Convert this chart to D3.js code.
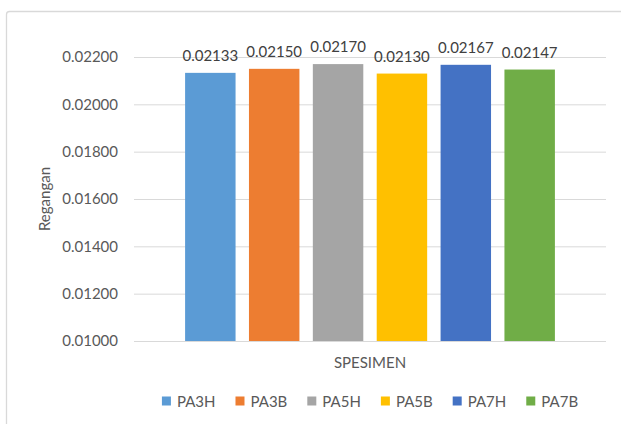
<!DOCTYPE html>
<html>
<head>
<meta charset="utf-8">
<script src="https://cdn.jsdelivr.net/npm/d3@7"></script>
<style>
  body { margin: 0; background: #fff; }
  svg { display: block; font-family: Lato, "Open Sans", sans-serif; }
</style>
</head>
<body>
<svg id="chart" width="621" height="424"></svg>
<script>
// data
let series = ["PA3H", "PA3B", "PA5H", "PA5B", "PA7H", "PA7B"]
let values = [0.02133, 0.02150, 0.02170, 0.02130, 0.02167, 0.02147]
let colors = ["#5B9BD5", "#ED7D31", "#A5A5A5", "#FFC000", "#4472C4", "#70AD47"]
let yTicks = [0.010, 0.012, 0.014, 0.016, 0.018, 0.020, 0.022]

let svg = d3.select("#chart")
let plotLeft = 134, plotRight = 606, plotTop = 57, plotBottom = 341

// chart border
svg.append("rect")
    .attr("x", 6.5).attr("y", 11.5)
    .attr("width", 640).attr("height", 440)
    .attr("rx", 3)
    .attr("fill", "none")
    .attr("stroke", "#D9D9D9")
    .attr("stroke-width", 1.3)

let y = d3.scaleLinear().domain([0.010, 0.022]).range([plotBottom, plotTop])
let x = d3.scaleBand().domain(series).range([plotLeft, plotRight])
    .paddingInner(0.21).paddingOuter(0.8)

// gridlines + tick labels
let yAxis = d3.axisLeft(y)
    .tickValues(yTicks)
    .tickFormat(d3.format(".5f"))
    .tickSize(-(plotRight - plotLeft))
    .tickPadding(16)

let gy = svg.append("g")
    .attr("transform", `translate(${plotLeft},0)`)
    .call(yAxis)
gy.select(".domain").remove()
gy.selectAll(".tick line").attr("stroke", "#D9D9D9").attr("stroke-width", 1)
gy.selectAll(".tick text")
    .attr("fill", "#595959")
    .style("font-size", "15px")
    .style("font-family", "Lato, 'Open Sans', sans-serif")

// bars
svg.selectAll("rect.bar")
    .data(series)
    .enter()
    .append("rect")
    .attr("class", "bar")
    .attr("x", d => x(d))
    .attr("y", (d, i) => y(values[i]))
    .attr("width", x.bandwidth())
    .attr("height", (d, i) => plotBottom - y(values[i]))
    .attr("fill", (d, i) => colors[i])

// value labels
svg.selectAll("text.val")
    .data(series)
    .enter()
    .append("text")
    .attr("class", "val")
    .attr("x", d => x(d) + x.bandwidth() / 2)
    .attr("y", (d, i) => y(values[i]) - 12)
    .attr("text-anchor", "middle")
    .attr("fill", "#404040")
    .style("font-size", "15px")
    .text((d, i) => d3.format(".5f")(values[i]))

// axis titles
svg.append("text")
    .attr("transform", "translate(50,199) rotate(-90)")
    .attr("text-anchor", "middle")
    .attr("fill", "#595959")
    .style("font-size", "15px")
    .text("Regangan")

svg.append("text")
    .attr("x", (plotLeft + plotRight) / 2)
    .attr("y", 368)
    .attr("text-anchor", "middle")
    .attr("fill", "#595959")
    .style("font-size", "15px")
    .text("SPESIMEN")

// legend
let legend = svg.append("g")
let lx = 0
let gap = 20
series.forEach((name, i) => {
    let item = legend.append("g").attr("transform", `translate(${lx},0)`)
    item.append("rect")
        .attr("x", 0).attr("y", -4.5)
        .attr("width", 9).attr("height", 9)
        .attr("fill", colors[i])
    let t = item.append("text")
        .attr("x", 15).attr("y", 5.5)
        .attr("fill", "#595959")
        .style("font-size", "15px")
        .text(name)
    lx += 15 + t.node().getComputedTextLength() + gap
})
let legendWidth = lx - gap
legend.attr("transform", `translate(${(plotLeft + plotRight) / 2 - legendWidth / 2},401)`)
</script>
</body>
</html>
